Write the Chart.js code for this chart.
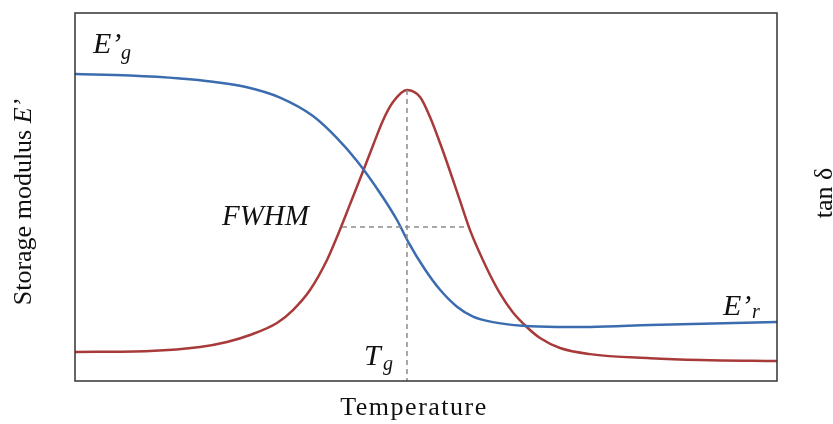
<!DOCTYPE html>
<html><head><meta charset="utf-8">
<script src="https://cdn.jsdelivr.net/npm/chart.js@4"></script>
<style>html,body{margin:0;padding:0;background:#fff;}canvas{display:block;}</style>
</head><body>
<canvas id="c" width="833" height="424"></canvas>
<script>
// Storage modulus E' (blue) — relative temperature (0..100) vs relative modulus
const modulusTemp = [0, 7.83, 14.96, 19.66, 24.50, 29.20, 33.90, 37.32, 40.17, 43.45, 45.87, 47.44, 49.86, 52.00, 54.42, 56.70, 59.54, 63.82, 68.66, 73.36, 81.91, 100];
const modulusVal  = [83.42, 83.0, 82.2, 81.3, 79.8, 77.0, 72.0, 66.0, 59.8, 51.1, 43.75, 37.9, 30.3, 24.8, 20.2, 17.5, 16.0, 15.0, 14.7, 14.7, 15.2, 16.03];
// tan delta (red)
const tanTemp = [0, 10.68, 17.81, 21.65, 24.93, 28.77, 31.05, 33.48, 35.90, 37.32, 39.17, 41.03, 42.45, 43.87, 45.30, 47.29, 49.15, 50.57, 52.00, 53.42, 54.84, 56.27, 58.69, 60.54, 62.39, 64.39, 66.24, 69.09, 73.36, 81.91, 89.03, 100];
const tanVal  = [7.88, 8.15, 9.24, 10.60, 12.50, 15.76, 19.29, 24.73, 32.88, 39.13, 48.0, 57.0, 64.0, 70.8, 75.8, 79.08, 77.17, 71.74, 64.67, 57.0, 49.0, 41.0, 30.5, 23.8, 18.6, 14.6, 11.68, 8.97, 7.3, 6.2, 5.71, 5.43];
// FWHM limits (temperature) and half-height level
const fwhmTemps = [38.03, 55.84];
const halfHeight = [41.85];

const peakIdx = tanVal.indexOf(Math.max(...tanVal));
const Tg = tanTemp[peakIdx];
const peak = tanVal[peakIdx];

const BLUE = '#3b6cb0', RED = '#a83a3a', DASH = '#8c8c8c';
const SERIF = '"Liberation Serif", "DejaVu Serif", serif';

const pts = (xs, ys) => xs.map((x, i) => ({x, y: ys[i]}));

const textPlugin = {
  id: 'texts',
  afterDraw(chart) {
    const ctx = chart.ctx, a = chart.chartArea;
    ctx.save();
    // frame
    ctx.strokeStyle = '#333';
    ctx.lineWidth = 1.5;
    ctx.strokeRect(a.left, a.top, a.right - a.left, a.bottom - a.top);
    ctx.fillStyle = '#111';
    ctx.textBaseline = 'alphabetic';
    ctx.textAlign = 'left';
    // E'g
    ctx.font = 'italic 30px ' + SERIF;
    ctx.fillText("E\u2019", 93, 53);
    ctx.font = 'italic 20px ' + SERIF;
    ctx.fillText('g', 121, 59);
    // E'r
    ctx.font = 'italic 30px ' + SERIF;
    ctx.fillText("E\u2019", 723, 315);
    ctx.font = 'italic 20px ' + SERIF;
    ctx.fillText('r', 752, 318);
    // FWHM
    ctx.font = 'italic 29px ' + SERIF;
    ctx.fillText('FWHM', 222, 225);
    // Tg
    ctx.font = 'italic 30px ' + SERIF;
    ctx.fillText('T', 364, 365);
    ctx.font = 'italic 20px ' + SERIF;
    ctx.fillText('g', 383, 370);
    // x title
    ctx.font = '26px ' + SERIF;
    ctx.textAlign = 'center';
    ctx.letterSpacing = '1.5px';
    ctx.fillText('Temperature', 414, 415);
    ctx.letterSpacing = '0px';
    // left title (rotated)
    ctx.save();
    ctx.translate(31, 202);
    ctx.rotate(-Math.PI / 2);
    ctx.textAlign = 'left';
    const t1 = 'Storage modulus ';
    ctx.font = '26px ' + SERIF;
    const w1 = ctx.measureText(t1).width;
    ctx.font = 'italic 26px ' + SERIF;
    const w2 = ctx.measureText("E\u2019").width;
    const start = -(w1 + w2) / 2;
    ctx.font = '26px ' + SERIF;
    ctx.fillText(t1, start, 0);
    ctx.font = 'italic 26px ' + SERIF;
    ctx.fillText("E\u2019", start + w1, 0);
    ctx.restore();
    // right title
    ctx.save();
    ctx.translate(832, 193);
    ctx.rotate(-Math.PI / 2);
    ctx.textAlign = 'center';
    ctx.font = '26px ' + SERIF;
    ctx.fillText('tan \u03b4', 0, 0);
    ctx.restore();
    ctx.restore();
  }
};

new Chart(document.getElementById('c'), {
  type: 'line',
  data: {
    datasets: [
      { label: 'Tg line', data: [{x: Tg, y: peak}, {x: Tg, y: 0}], borderColor: DASH, borderWidth: 1.5, borderDash: [5, 4], pointRadius: 0, tension: 0 },
      { label: 'FWHM line', data: [{x: fwhmTemps[0], y: halfHeight[0]}, {x: fwhmTemps[1], y: halfHeight[0]}], borderColor: DASH, borderWidth: 1.5, borderDash: [5, 4], pointRadius: 0, tension: 0 },
      { label: "E'", data: pts(modulusTemp, modulusVal), borderColor: BLUE, borderWidth: 2.5, pointRadius: 0, cubicInterpolationMode: 'monotone' },
      { label: 'tan d', data: pts(tanTemp, tanVal), borderColor: RED, borderWidth: 2.5, pointRadius: 0, cubicInterpolationMode: 'monotone' }
    ]
  },
  options: {
    responsive: false,
    animation: false,
    devicePixelRatio: 1,
    layout: { padding: { left: 75, right: 56, top: 13, bottom: 43 } },
    plugins: { legend: { display: false }, tooltip: { enabled: false } },
    scales: {
      x: { type: 'linear', min: 0, max: 100, display: false },
      y: { type: 'linear', min: 0, max: 100, display: false }
    }
  },
  plugins: [textPlugin]
});
</script>
</body></html>
